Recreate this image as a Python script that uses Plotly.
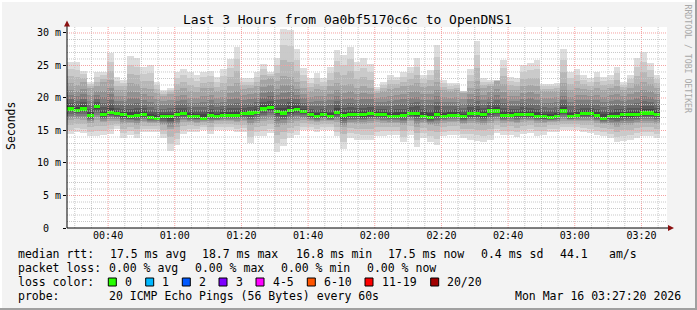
import pandas as pd
import plotly.graph_objects as go

# ---------------- data ----------------
T_START = pd.Timestamp("2026-03-16 00:27:40")
STEP_MINUTES = 2

rtt_max = [25.6, 25.5, 24.2, 22.5, 24.0, 24.0, 26.9, 23.3, 22.8, 26.4,
           26.1, 24.8, 25.0, 22.5, 21.2, 21.5, 24.0, 24.5, 24.0, 23.5,
           24.0, 24.2, 23.2, 24.5, 26.0, 27.9, 23.0, 23.0, 24.0, 25.2,
           24.0, 26.2, 30.6, 30.4, 27.5, 24.6, 23.0, 23.8, 23.0, 24.8,
           27.4, 26.6, 27.9, 25.5, 26.1, 25.3, 21.7, 22.5, 23.5, 23.3,
           24.0, 24.8, 26.1, 23.5, 24.3, 28.1, 22.8, 22.3, 22.3, 21.1,
           24.5, 28.7, 23.0, 22.8, 22.8, 25.8, 23.3, 23.0, 25.0, 25.4,
           25.8, 22.2, 22.2, 22.3, 27.6, 24.0, 24.5, 23.5, 23.0, 24.0,
           23.3, 23.5, 24.8, 22.5, 23.5, 26.1, 27.0, 25.4, 23.5]

rtt_upper = [22.3, 22.0, 22.5, 21.5, 21.8, 22.4, 22.8, 21.2, 21.3, 22.3,
             22.2, 21.6, 21.4, 20.8, 20.3, 20.6, 21.3, 21.5, 21.0, 20.9,
             21.5, 21.6, 21.0, 21.2, 21.9, 22.3, 21.4, 21.5, 21.8, 22.8,
             23.1, 22.6, 23.4, 23.2, 22.4, 21.6, 21.0, 21.4, 21.2, 21.8,
             22.3, 22.0, 22.2, 21.6, 21.8, 21.6, 20.8, 21.0, 21.4, 21.6,
             21.8, 22.0, 22.3, 21.7, 21.9, 22.5, 21.2, 21.0, 21.2, 20.8,
             21.6, 22.6, 21.5, 21.8, 22.6, 22.2, 21.3, 21.2, 21.9, 22.0,
             21.8, 21.0, 21.0, 21.1, 22.3, 21.2, 21.6, 21.4, 21.3, 21.6,
             21.3, 21.5, 21.8, 21.2, 21.6, 22.1, 22.4, 22.1, 21.6]

rtt_median = [18.3, 18.1, 18.3, 17.3, 18.7, 17.4, 17.8, 17.6, 17.4, 17.1,
              17.3, 17.4, 17.0, 16.9, 17.1, 17.1, 17.5, 17.6, 17.2, 17.1,
              16.9, 17.3, 17.1, 17.3, 17.3, 17.3, 17.6, 17.7, 17.8, 18.3,
              18.5, 17.9, 17.7, 18.1, 18.2, 17.9, 17.4, 17.2, 17.4, 17.1,
              17.8, 17.3, 17.4, 17.5, 17.4, 17.6, 17.5, 17.4, 17.2, 17.2,
              17.3, 17.6, 17.6, 17.2, 17.0, 17.5, 17.2, 17.3, 17.3, 17.1,
              17.6, 17.6, 17.4, 18.0, 18.0, 17.3, 17.3, 17.4, 17.5, 17.4,
              17.2, 17.1, 17.0, 17.2, 18.0, 17.2, 17.3, 17.6, 17.6, 17.3,
              16.9, 17.1, 17.2, 17.4, 17.4, 17.4, 17.7, 17.7, 17.5]

rtt_lower = [16.6, 16.7, 16.6, 16.2, 16.6, 16.3, 16.5, 16.5, 16.0, 16.2,
             15.9, 16.3, 16.2, 16.1, 15.8, 15.2, 15.6, 16.3, 16.3, 16.2,
             16.3, 16.2, 16.4, 16.4, 16.4, 16.3, 16.4, 15.8, 16.2, 16.4,
             16.6, 15.6, 15.8, 16.2, 16.5, 16.6, 16.4, 16.3, 16.5, 16.4,
             16.3, 15.5, 16.1, 16.0, 16.0, 16.1, 16.3, 16.2, 16.1, 16.1,
             15.8, 16.4, 15.6, 16.1, 15.8, 15.7, 16.2, 16.3, 16.3, 16.0,
             16.1, 16.0, 15.9, 16.1, 16.4, 16.2, 16.3, 16.1, 16.3, 16.4,
             16.2, 16.2, 16.3, 16.3, 16.5, 16.4, 16.4, 16.4, 16.4, 16.2,
             16.0, 15.9, 15.6, 15.8, 15.9, 16.1, 16.2, 16.2, 16.0]

rtt_min = [14.4, 14.8, 14.6, 14.1, 14.1, 14.3, 14.5, 15.2, 13.9, 14.3,
           13.8, 14.7, 14.8, 14.8, 13.8, 11.8, 12.8, 14.4, 14.8, 14.8,
           15.1, 14.4, 15.1, 15.1, 15.1, 14.8, 14.8, 13.0, 14.1, 14.1,
           14.6, 11.7, 12.6, 13.8, 14.3, 15.1, 15.0, 14.8, 15.1, 15.1,
           14.1, 12.2, 13.8, 13.6, 13.5, 13.5, 14.1, 14.2, 14.3, 14.3,
           13.2, 14.3, 12.5, 13.8, 13.3, 12.8, 14.1, 14.3, 14.3, 13.8,
           13.6, 13.4, 13.2, 13.5, 14.6, 14.3, 14.3, 14.0, 14.4, 14.6,
           14.2, 14.3, 14.8, 14.8, 15.1, 15.1, 15.0, 14.8, 14.6, 14.3,
           14.1, 13.8, 13.2, 13.4, 13.5, 13.9, 14.1, 14.1, 13.8]

X_TICK_LABELS = ["00:40", "01:00", "01:20", "01:40", "02:00",
                 "02:20", "02:40", "03:00", "03:20"]
Y_TICK_VALUES = [0, 5, 10, 15, 20, 25, 30]
Y_TICK_LABELS = ["0\u00a0\u00a0", "5 m", "10 m", "15 m", "20 m", "25 m", "30 m"]

TITLE = "Last 3 Hours from 0a0bf5170c6c to OpenDNS1"
RTT_STATS = ["17.5 ms avg", "18.7 ms max", "16.8 ms min", "17.5 ms now",
             "0.4 ms sd", "44.1", "am/s"]
LOSS_STATS = ["0.00 % avg", "0.00 % max", "0.00 % min", "0.00 % now"]
LOSS_LABELS = ["0", "1", "2", "3", "4-5", "6-10", "11-19", "20/20"]
LOSS_COLORS = ["#26ff00", "#00b8ff", "#0059ff", "#7e00ff",
               "#ff00ff", "#ff5500", "#ff0000", "#a10000"]
PROBE_TEXT = "20 ICMP Echo Pings (56 Bytes) every 60s"
STAMP = "Mon Mar 16 03:27:20 2026"
WATERMARK = "RRDTOOL / TOBI OETIKER"

# ---------------- layout constants ----------------
W, H = 697, 310
PL, PR, PT, PB = 67, 667, 27, 228          # plot area in pixels
PW, PH = PR - PL, PB - PT
Y_MAX = 30.92
FONT = "DejaVu Sans Mono"
T_END = T_START + pd.Timedelta(hours=3)


def px(xp):
    return (xp - PL) / PW


def py(yp):
    return (PB - yp) / PH


n = len(rtt_median)
step = pd.Timedelta(minutes=STEP_MINUTES)
starts = [T_START + k * step for k in range(n)]
centers = [s + step / 2 for s in starts]
bar_w = STEP_MINUTES * 60 * 1000

fig = go.Figure()

# smoke: outer band lightest, inner bands darker (smokeping style)
SHADES = [221, 202, 183, 164, 145, 126, 107, 88, 69, 50]
UP_IN = [0.75, 0.55, 0.38, 0.24, 0.13, 0.05]
LO_IN = [0.2, 0.4, 0.55, 0.7, 0.82, 0.92]
for i, g in enumerate(SHADES):
    tops, bots = [], []
    for mx, um, md, lm, mn in zip(rtt_max, rtt_upper, rtt_median, rtt_lower, rtt_min):
        if i < 4:
            top = um + (mx - um) * (1 - i / 3)
            bot = mn + (lm - mn) * (i / 3)
        else:
            top = md + (um - md) * UP_IN[i - 4]
            bot = lm + (md - lm) * LO_IN[i - 4]
        tops.append(top)
        bots.append(bot)
    fig.add_trace(go.Bar(
        x=centers, y=[t - b for t, b in zip(tops, bots)], base=bots,
        width=bar_w, marker=dict(color=f"rgb({g},{g},{g})", line=dict(width=0)),
        hoverinfo="skip", showlegend=False))

# green median blocks (0 % loss colour)
MED_H = 0.48
fig.add_trace(go.Bar(
    x=centers, y=[MED_H] * n, base=[m - MED_H / 2 for m in rtt_median],
    width=bar_w, marker=dict(color=LOSS_COLORS[0], line=dict(width=0)),
    hoverinfo="skip", showlegend=False))

shapes = []
# grid (drawn above the smoke, like rrdtool)
minor_c, major_c = "#c8c8c8", "#f4a0a0"
t = pd.Timestamp("2026-03-16 00:30:00")
while t < T_END:
    major = (t.minute % 20 == 0)
    shapes.append(dict(type="line", xref="x", yref="paper", x0=t, x1=t, y0=0, y1=1,
                       line=dict(color=major_c if major else minor_c, width=1, dash="1px,1px"),
                       layer="above"))
    t += pd.Timedelta(minutes=5)
for v in range(1, 31):
    major = (v % 5 == 0)
    shapes.append(dict(type="line", xref="paper", yref="y", x0=0, x1=1, y0=v, y1=v,
                       line=dict(color=major_c if major else minor_c, width=1, dash="1px,1px"),
                       layer="above"))

# axes with arrows
shapes.append(dict(type="line", xref="paper", yref="paper", x0=0, x1=0, y0=0, y1=py(24),
                   line=dict(color="#000000", width=1), layer="above"))
shapes.append(dict(type="line", xref="paper", yref="paper", x0=0, x1=px(670), y0=0, y1=0,
                   line=dict(color="#000000", width=1), layer="above"))
arrow_c = "#8b1010"
shapes.append(dict(type="path", xref="paper", yref="paper",
                   path=f"M {px(64)},{py(26.5)} L {px(70)},{py(26.5)} L {px(67)},{py(20.5)} Z",
                   fillcolor=arrow_c, line=dict(width=0), layer="above"))
shapes.append(dict(type="path", xref="paper", yref="paper",
                   path=f"M {px(668)},{py(225)} L {px(668)},{py(231)} L {px(674)},{py(228)} Z",
                   fillcolor=arrow_c, line=dict(width=0), layer="above"))

# 3D frame around the image
shapes.append(dict(type="rect", xref="paper", yref="paper", x0=px(0), x1=px(W), y0=py(H - 2), y1=py(H),
                   fillcolor="#a0a0a0", line=dict(width=0)))
shapes.append(dict(type="rect", xref="paper", yref="paper", x0=px(W - 2), x1=px(W), y0=py(H), y1=py(0),
                   fillcolor="#a0a0a0", line=dict(width=0)))
shapes.append(dict(type="rect", xref="paper", yref="paper", x0=px(0), x1=px(W - 2), y0=py(2), y1=py(0),
                   fillcolor="#ffffff", line=dict(width=0)))
shapes.append(dict(type="rect", xref="paper", yref="paper", x0=px(0), x1=px(2), y0=py(H - 2), y1=py(0),
                   fillcolor="#ffffff", line=dict(width=0)))

annotations = []


def txt(x, y, s, size=11.5, color="#000000", anchor="left", angle=0, family=FONT):
    annotations.append(dict(xref="paper", yref="paper", x=px(x), y=py(y), text=s,
                            showarrow=False, xanchor=anchor, yanchor="middle",
                            textangle=angle, font=dict(family=family, size=size, color=color)))


txt(347.5, 19.5, TITLE, size=13, anchor="center")
txt(11, 126, "Seconds", size=11.5, anchor="center", angle=-90)
txt(688, 58.5, WATERMARK, size=8.2, color="#a8a8a8", anchor="center", angle=90)

# legend rows
r1, r2, r3, r4 = 254, 268, 282, 296
txt(16, r1, "median rtt:")
for xpos, s in zip([107.5, 200, 293.5, 386, 479.3, 558.3, 607.3], RTT_STATS):
    txt(xpos, r1, s)
txt(16, r2, "packet loss:")
for xpos, s in zip([107.3, 193.3, 279, 365], LOSS_STATS):
    txt(xpos, r2, s)
txt(16, r3, "loss color:")
for xpos, s, c in zip([108.3, 145.7, 182.3, 219, 256, 307.3, 365, 430.7], LOSS_LABELS, LOSS_COLORS):
    shapes.append(dict(type="rect", xref="paper", yref="paper", x0=px(xpos), x1=px(xpos + 8),
                       y0=py(286), y1=py(278), fillcolor=c, line=dict(color="#000000", width=1)))
    txt(xpos + 14.5, r3, s)
txt(16, r4, "probe:")
txt(107.3, r4, PROBE_TEXT)
txt(513.3, r4, STAMP)

tick_times = [pd.Timestamp("2026-03-16 00:40:00") + k * pd.Timedelta(minutes=20)
              for k in range(len(X_TICK_LABELS))]

fig.update_layout(
    width=W, height=H,
    margin=dict(l=PL, r=W - PR, t=PT, b=H - PB, pad=0),
    paper_bgcolor="#f3f3f3", plot_bgcolor="#ffffff",
    barmode="overlay", bargap=0, showlegend=False,
    font=dict(family=FONT, color="#000000"),
    shapes=shapes, annotations=annotations,
)
fig.update_xaxes(type="date", range=[T_START, T_END], showgrid=False, zeroline=False,
                 showline=False, tickmode="array", tickvals=tick_times, ticktext=X_TICK_LABELS,
                 ticks="", tickfont=dict(family=FONT, size=10, color="#000000"))
fig.update_yaxes(range=[0, Y_MAX], showgrid=False, zeroline=False, showline=False,
                 tickmode="array", tickvals=Y_TICK_VALUES, ticktext=Y_TICK_LABELS,
                 ticks="outside", ticklen=3, tickcolor="#000000",
                 tickfont=dict(family=FONT, size=10, color="#000000"))

fig.write_html("out.html")
